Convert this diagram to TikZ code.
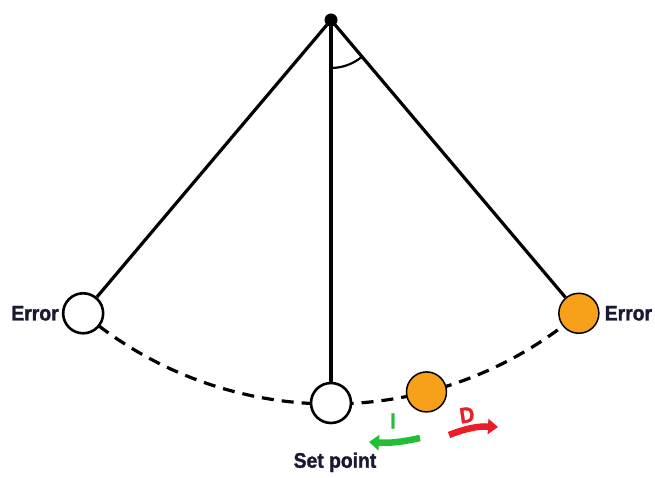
\documentclass[tikz,border=0pt]{standalone}
\usepackage{fontspec}
\setmainfont{Liberation Sans}
\newfontfamily\labelfont[FakeStretch=0.92,FakeBold=1.5]{Liberation Sans}
\usetikzlibrary{positioning,arrows.meta,calc}
\definecolor{ballorange}{RGB}{247,160,26}
\definecolor{arrgreen}{RGB}{34,190,52}
\definecolor{arrred}{RGB}{232,30,40}
\definecolor{txtnavy}{RGB}{25,25,50}
\newcommand{\rodlen}{384}
\newcommand{\swing}{40.2}

\begin{document}
\begin{tikzpicture}[x=1pt,y=1pt,
    rod/.style={line width=3.2pt},
    ball/.style={circle, draw, line width=2.6pt, fill=white, minimum size=40pt, inner sep=0pt},
    mass/.style={ball, fill=ballorange, line width=1.5pt},
    lbl/.style={font=\labelfont\bfseries\fontsize{21}{23}\selectfont, text=txtnavy, inner sep=0pt},
    term/.style={font=\labelfont\bfseries\fontsize{22}{24}\selectfont, inner sep=0pt},
    turn/.style={line width=6.5pt, -{Triangle[length=10pt,width=15pt]}}]
            \useasboundingbox (0,0) rectangle (655,477);
            %\draw[help lines] (0,0) grid[step=50] (655,477);
            \coordinate (pivot) at (331,457);
            % dashed path of the bob
            \draw[rod, dash pattern=on 12pt off 8pt] (pivot) ++(-90-\swing:\rodlen) arc (-90-\swing:-90+\swing:\rodlen);
            \node[ball] (errL) at ($(pivot)+(-90-\swing:\rodlen)$) {};
            \node[ball] (sp) at ($(pivot)+(-90:383)$) {};
            \node[mass] (errR) at ($(pivot)+(-90+\swing:\rodlen)$) {};
            \node[mass] (bob) at ($(pivot)+(-75.6:\rodlen)$) {};
            \draw[rod] (pivot) -- (errL);
            \draw[rod] (pivot) -- (sp);
            \draw[rod] (pivot) -- (errR);
            \fill (pivot) circle (6.5pt);
            % angle mark
            \draw[line width=2.2pt] (pivot) ++(-90:48) arc (-90:-90+\swing:48);
            \node[lbl, left=3pt of errL] (errLtxt) {Error};
            \node[lbl, right=5pt of errR] (errRtxt) {Error};
            \node[lbl, below=28pt of sp, xshift=4pt] (sptxt) {Set point};
            % correction arrows
            \coordinate (iTail) at (420,39);
            \coordinate (iHead) at (369,35);
            \coordinate (dTail) at (449,42);
            \coordinate (dHead) at (498,50);
            \draw[turn, arrgreen] (iTail) to[bend left=8] (iHead);
            \draw[turn, arrred] (dTail) to[bend left=12] (dHead);
            \node[term, text=arrgreen] (iTxt) at (393,56) {I};
            \node[term, text=arrred, rotate=8] (dTxt) at (467,62) {D};
        \end{tikzpicture}
\end{document}
